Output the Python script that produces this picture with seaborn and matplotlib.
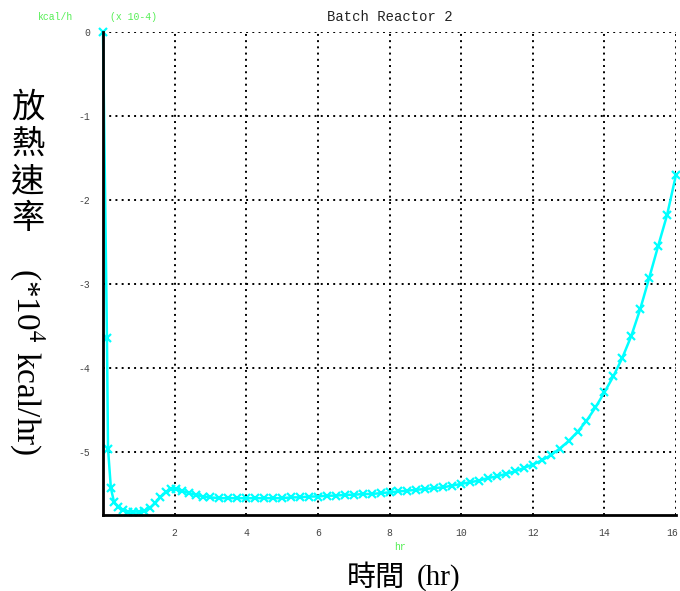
import matplotlib
matplotlib.use('Agg')
import matplotlib.pyplot as plt
import matplotlib.transforms as mtransforms
import seaborn as sns
import pandas as pd

# heat release rate (x 10^4 kcal/hr)
hours = [0.0, 0.11, 0.14, 0.22, 0.31, 0.42, 0.55, 0.7, 0.85, 1.0, 1.15, 1.3, 1.45,
         1.6, 1.75, 1.9, 2.05, 2.2, 2.4, 2.6, 2.8, 3.0, 3.25, 3.5, 3.75, 4.0, 4.25,
         4.5, 4.75, 5.0, 5.25, 5.5, 5.75, 6.0, 6.25, 6.5, 6.75, 7.0, 7.25, 7.5,
         7.75, 8.0, 8.25, 8.5, 8.75, 9.0, 9.25, 9.5, 9.75, 10.0, 10.25, 10.5,
         10.75, 11.0, 11.25, 11.5, 11.75, 12.0, 12.25, 12.5, 12.75, 13.0, 13.25,
         13.5, 13.75, 14.0, 14.25, 14.5, 14.75, 15.0, 15.25, 15.5, 15.75, 16.0]
heat_rate = [0.0, -3.64, -4.96, -5.43, -5.60, -5.65, -5.69, -5.71, -5.71, -5.71,
             -5.70, -5.67, -5.61, -5.54, -5.48, -5.44, -5.44, -5.46, -5.49, -5.51,
             -5.53, -5.54, -5.55, -5.55, -5.55, -5.55, -5.55, -5.55, -5.55, -5.55,
             -5.54, -5.54, -5.53, -5.53, -5.52, -5.52, -5.51, -5.51, -5.50, -5.50,
             -5.49, -5.48, -5.47, -5.46, -5.45, -5.44, -5.43, -5.42, -5.40, -5.38,
             -5.36, -5.34, -5.31, -5.29, -5.26, -5.23, -5.19, -5.15, -5.10, -5.04,
             -4.96, -4.87, -4.76, -4.63, -4.47, -4.29, -4.10, -3.88, -3.62, -3.30,
             -2.93, -2.55, -2.18, -1.70]

x_ticks = [2, 4, 6, 8, 10, 12, 14, 16]
y_ticks = [0, -1, -2, -3, -4, -5]

sns.set_style('white')
plt.rcParams['mathtext.fontset'] = 'stix'

df = pd.DataFrame({'hr': hours, 'q': heat_rate})

fig = plt.figure(figsize=(6.8, 5.91), dpi=100)
ax = fig.add_axes([103 / 680, 1 - 515 / 591, 573 / 680, 483 / 591])

sns.lineplot(data=df, x='hr', y='q', ax=ax, color='#00ffff', marker='x',
             markersize=6, markeredgewidth=1.6, markeredgecolor='#00ffff',
             linewidth=1.8, clip_on=False, zorder=3)

ax.set_xlim(0, 16)
ax.set_ylim(-5.75, 0)
ax.set_xticks(x_ticks)
ax.set_yticks(y_ticks)
ax.set_xticklabels([str(t) for t in x_ticks])
ax.set_yticklabels([str(t) for t in y_ticks])
ax.tick_params(length=0, labelsize=7, labelcolor='#444444', pad=9)
for lab in ax.get_xticklabels() + ax.get_yticklabels():
    lab.set_fontfamily('Liberation Mono')
# last x label sits on the figure edge, nudge it in a little
last = ax.get_xticklabels()[-1]
last.set_transform(last.get_transform() +
                   mtransforms.ScaledTranslation(-4 / 100, 0, fig.dpi_scale_trans))
ax.set_xlabel('')
ax.set_ylabel('')

ax.grid(True, color='black', linestyle=(0, (1, 2.2)), linewidth=1.4)
ax.set_axisbelow(True)
for side in ['top', 'right']:
    ax.spines[side].set_visible(False)
for side in ['left', 'bottom']:
    ax.spines[side].set_color('black')
    ax.spines[side].set_linewidth(2)
    ax.spines[side].set_zorder(4)

green = '#55ee55'
fig.text(390 / 680, 1 - 17 / 591, 'Batch Reactor 2', ha='center', va='center',
         fontsize=10, family='Liberation Mono', color='#222222')
fig.text(38 / 680, 1 - 17 / 591, 'kcal/h', ha='left', va='center',
         fontsize=7, family='Liberation Mono', color=green)
fig.text(110 / 680, 1 - 17 / 591, '(x 10-4)', ha='left', va='center',
         fontsize=7, family='Liberation Mono', color=green)
fig.text(400 / 680, 1 - 547 / 591, 'hr', ha='center', va='center',
         fontsize=7, family='Liberation Mono', color=green)

# big axis titles
fig.text(405 / 680, 1 - 578 / 591, '時間', ha='right', va='center', fontsize=21,
         family=['Noto Sans CJK TC', 'DejaVu Sans'], color='black')
fig.text(417 / 680, 1 - 578 / 591, '(hr)', ha='left', va='center', fontsize=21,
         family='Liberation Serif', color='black')

fig.text(28 / 680, 1 - 163 / 591, '放\n熱\n速\n率', ha='center', va='center',
         fontsize=24, linespacing=1.08,
         family=['Noto Sans CJK TC', 'DejaVu Sans'], color='black')
fig.text(27 / 680, 1 - 362 / 591, r'(*10$^{4}$ kcal/hr)', ha='center', va='center',
         rotation=-90, fontsize=24, family='Liberation Serif', color='black')

fig.savefig('out.png', dpi=100)
